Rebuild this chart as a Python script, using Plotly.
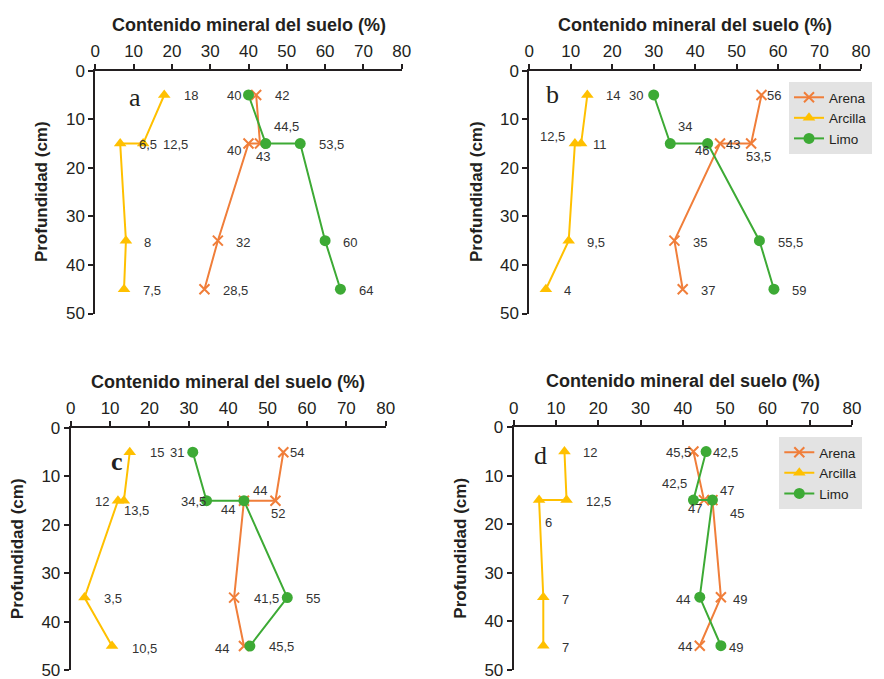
import plotly.graph_objects as go

W, H = 884, 679

# ---------------- data ----------------
depth = [5, 15, 15, 35, 45]
x_ticks = [0, 10, 20, 30, 40, 50, 60, 70, 80]
y_ticks = [0, 10, 20, 30, 40, 50]
series_names = ["Arena", "Arcilla", "Limo"]

# panel a
arena_a = [42, 43, 40, 32, 28.5]
arcilla_a = [18, 12.5, 6.5, 8, 7.5]
limo_a = [40, 44.5, 53.5, 60, 64]
arena_a_lbl = ["42", "43", "40", "32", "28,5"]
arcilla_a_lbl = ["18", "12,5", "6,5", "8", "7,5"]
limo_a_lbl = ["40", "44,5", "53,5", "60", "64"]

# panel b
arena_b = [56, 53.5, 46, 35, 37]
arcilla_b = [14, 12.5, 11, 9.5, 4]
limo_b = [30, 34, 43, 55.5, 59]
arena_b_lbl = ["56", "53,5", "43", "35", "37"]
arcilla_b_lbl = ["14", "12,5", "11", "9,5", "4"]
limo_b_lbl = ["30", "34", "46", "55,5", "59"]

# panel c
arena_c = [54, 52, 44, 41.5, 44]
arcilla_c = [15, 13.5, 12, 3.5, 10.5]
limo_c = [31, 34.5, 44, 55, 45.5]
arena_c_lbl = ["54", "52", "44", "41,5", "44"]
arcilla_c_lbl = ["15", "13,5", "12", "3,5", "10,5"]
limo_c_lbl = ["31", "34,5", "44", "55", "45,5"]

# panel d
arena_d = [42.5, 45, 47, 49, 44]
arcilla_d = [12, 12.5, 6, 7, 7]
limo_d = [45.5, 42.5, 47, 44, 49]
arena_d_lbl = ["45,5", "47", "45", "49", "44"]
arcilla_d_lbl = ["12", "12,5", "6", "7", "7"]
limo_d_lbl = ["42,5", "42,5", "47", "44", "49"]

# ---------------- styles / layout ----------------
COL = {"Arena": "#F07E3A", "Arcilla": "#FFC000", "Limo": "#3DAA35"}
SYM = {"Arena": "x-thin-open", "Arcilla": "triangle-up", "Limo": "circle"}
MSIZE = {"Arena": 10, "Arcilla": 11, "Limo": 11}
AX = "#231F20"
LBL_COL = "#333333"

# label offsets in px (dx right, dy down), per point
OFF = {
    "a": {
        "Arena": [(25.5, 1), (3, 13), (-15, 7), (25.5, 2), (31, 1)],
        "Arcilla": [(26.5, 1), (32, 1), (27.5, 1), (22, 2), (28, 1)],
        "Limo": [(-15, 1), (21, -17.5), (31.5, 1), (25, 2), (25.5, 1)],
    },
    "b": {
        "Arena": [(12.5, 1), (7, 13), (13, 1), (25.5, 2), (25.5, 1)],
        "Arcilla": [(25.5, 1), (-28.5, -7.5), (25.5, 1), (27.5, 2), (22, 1)],
        "Limo": [(-18, 1), (14.5, -17), (-5.5, 7), (31, 2), (25, 1)],
    },
    "c": {
        "Arena": [(13.5, 0), (3, 12.5), (16, -10.5), (32, 1), (-22, 2)],
        "Arcilla": [(27, 0), (12.5, 10), (-16, 1), (28.5, 1), (32, 2)],
        "Limo": [(-16, 0), (-13, 1), (-15.5, 8.5), (26, 1), (32, 0)],
    },
    "d": {
        "Arena": [(-15, 1), (-9, 8), (25, 13), (19, 2), (-15, 1)],
        "Arcilla": [(26, 1), (32, 1.5), (9, 22.5), (22.5, 2), (22.5, 2)],
        "Limo": [(19.5, 1), (-18.5, -17), (15, -10), (-17, 2), (15, 2)],
    },
}

# plot areas in pixels: (x0, x1, ytop, ybottom)
PANEL_PX = {
    "a": (95.3, 401.7, 70.7, 313.5),
    "b": (529.3, 861.0, 70.7, 313.5),
    "c": (70.7, 385.7, 428.0, 670.3),
    "d": (513.7, 852.0, 427.3, 670.0),
}
LETTER_PX = {"a": (135, 98), "b": (552, 95), "c": (117, 461), "d": (540, 456)}
YTITLE_PX = {"a": 41, "b": 476, "c": 17, "d": 461}
XTITLE_DY = 46  # title centre above axis line
LEGEND_PX = {"b": (789, 82), "d": (779.3, 437)}

DATA = {
    "a": {"Arena": (arena_a, arena_a_lbl), "Arcilla": (arcilla_a, arcilla_a_lbl), "Limo": (limo_a, limo_a_lbl)},
    "b": {"Arena": (arena_b, arena_b_lbl), "Arcilla": (arcilla_b, arcilla_b_lbl), "Limo": (limo_b, limo_b_lbl)},
    "c": {"Arena": (arena_c, arena_c_lbl), "Arcilla": (arcilla_c, arcilla_c_lbl), "Limo": (limo_c, limo_c_lbl)},
    "d": {"Arena": (arena_d, arena_d_lbl), "Arcilla": (arcilla_d, arcilla_d_lbl), "Limo": (limo_d, limo_d_lbl)},
}
LEGEND_OF = {"b": "legend", "d": "legend2"}

fig = go.Figure()
annotations = []
layout = {}


def px2paper(x, y):
    return x / W, 1 - y / H


for i, p in enumerate(["a", "b", "c", "d"]):
    n = "" if i == 0 else str(i + 1)
    xa, ya = "x" + n, "y" + n
    x0, x1, yt, yb = PANEL_PX[p]
    common = dict(
        ticks="outside", ticklen=5, tickwidth=1.5, tickcolor=AX, automargin=False,
        showline=True, linecolor=AX, linewidth=2, showgrid=False, zeroline=False,
        ticklabeloverflow="allow",
        tickfont=dict(family="Liberation Sans, Arial", size=17, color=AX),
    )
    layout["xaxis" + n] = dict(
        domain=[x0 / W, x1 / W], anchor=ya, side="top", range=[0, 80],
        tickvals=x_ticks, **common,
    )
    layout["yaxis" + n] = dict(
        domain=[1 - yb / H, 1 - yt / H], anchor=xa, range=[50, 0],
        tickvals=y_ticks, **common,
    )
    for s in series_names:
        vals, lbls = DATA[p][s]
        kw = {}
        if p in LEGEND_OF:
            kw["legend"] = LEGEND_OF[p]
            kw["showlegend"] = True
        else:
            kw["showlegend"] = False
        fig.add_trace(go.Scatter(
            x=vals, y=depth, name=s, mode="lines+markers", xaxis=xa, yaxis=ya,
            line=dict(color=COL[s], width=2),
            marker=dict(symbol=SYM[s], size=MSIZE[s], color=COL[s],
                        line=dict(color=COL[s], width=2 if s == "Arena" else 0)),
            **kw,
        ))
        for v, d, t, (dx, dy) in zip(vals, depth, lbls, OFF[p][s]):
            annotations.append(dict(
                x=v, y=d, xref=xa, yref=ya, text=t, showarrow=False,
                xanchor="center", yanchor="middle", xshift=dx, yshift=-dy,
                font=dict(family="Liberation Sans, Arial", size=13, color=LBL_COL),
            ))
    # panel letter
    lx, ly = px2paper(*LETTER_PX[p])
    annotations.append(dict(
        x=lx, y=ly, xref="paper", yref="paper", text=("<b>c</b>" if p == "c" else p),
        showarrow=False, xanchor="center", yanchor="middle",
        font=dict(family="Liberation Serif, Times New Roman", size=26, color="#231F20"),
    ))
    # x title
    tx, ty = px2paper((x0 + x1) / 2, yt - XTITLE_DY)
    annotations.append(dict(
        x=tx, y=ty, xref="paper", yref="paper", text="<b>Contenido mineral del suelo (%)</b>",
        showarrow=False, xanchor="center", yanchor="middle",
        font=dict(family="Liberation Sans, Arial", size=18, color=AX),
    ))
    # y title
    vx, vy = px2paper(YTITLE_PX[p], (yt + yb) / 2)
    annotations.append(dict(
        x=vx, y=vy, xref="paper", yref="paper", text="<b>Profundidad (cm)</b>",
        showarrow=False, xanchor="center", yanchor="middle", textangle=-90,
        font=dict(family="Liberation Sans, Arial", size=17, color=AX),
    ))

for p, lg in LEGEND_OF.items():
    gx, gy = px2paper(*LEGEND_PX[p])
    layout[lg] = dict(
        x=gx, y=gy, xref="paper", yref="paper", xanchor="left", yanchor="top",
        bgcolor="#E3E3E3", borderwidth=0, tracegroupgap=0,
        font=dict(family="Liberation Sans, Arial", size=13.5, color="#231F20"),
        itemwidth=30,
    )

fig.update_layout(
    width=W, height=H, margin=dict(l=0, r=0, t=0, b=0, autoexpand=False),
    paper_bgcolor="white", plot_bgcolor="white",
    annotations=annotations, **layout,
)

fig.write_html(
    "out.html",
    config={"displayModeBar": False},
    post_script="document.body.style.margin='0';document.body.style.overflow='hidden';",
)
